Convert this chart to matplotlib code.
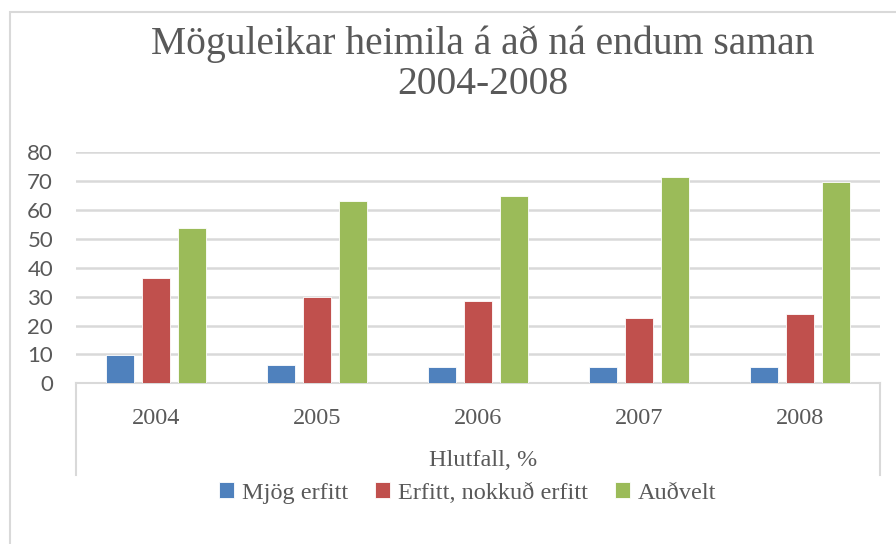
import matplotlib.pyplot as plt
import numpy as np
from matplotlib.patches import Rectangle

# gögn lesin af myndinni
years = ['2004', '2005', '2006', '2007', '2008']
mjog_erfitt = [9.8, 6.2, 5.5, 5.5, 5.5]
erfitt = [36.6, 29.8, 28.5, 22.7, 24.1]
audvelt = [53.7, 63.1, 64.9, 71.6, 69.8]
series_names = ['Mjög erfitt', 'Erfitt, nokkuð erfitt', 'Auðvelt']
colors = ['#4F81BD', '#C0504D', '#9BBB59']

W, H = 896, 544
fig = plt.figure(figsize=(W / 100, H / 100), dpi=100)
serif = 'Liberation Serif'
txt_color = '#595959'
grid_color = '#D9D9D9'

# ytri rammi
fig.add_artist(Rectangle((9.5 / W, -0.05), 1.2, 1 - 11.5 / H + 0.05,
                         transform=fig.transFigure, fill=False,
                         ec=grid_color, lw=1.5))

ax = fig.add_axes([76 / W, 1 - 383.3 / H, (880 - 76) / W, (383.3 - 152.3) / H])

x = np.arange(len(years))
step = 0.224
width = 0.174
for k, (vals, name, c) in enumerate(zip([mjog_erfitt, erfitt, audvelt], series_names, colors)):
    ax.bar(x + (k - 1) * step, vals, width, color=c, edgecolor='white',
           linewidth=0.6, label=name, zorder=3)

ax.set_xlim(-0.5, 4.5)
ax.set_ylim(0, 80)
ax.set_yticks(range(0, 81, 10))
ax.yaxis.grid(True, color=grid_color, lw=1.8, zorder=0)
for s in ['top', 'right', 'left']:
    ax.spines[s].set_visible(False)
ax.spines['bottom'].set_color(grid_color)
ax.spines['bottom'].set_linewidth(1.5)

ax.tick_params(axis='y', length=0, pad=16.5, labelsize=16, labelcolor=txt_color)
for lab in ax.get_yticklabels():
    lab.set_fontfamily('Lato')
ax.set_xticks(x)
ax.set_xticklabels(years, fontfamily=serif, fontsize=17.5, color=txt_color)
ax.tick_params(axis='x', length=0, pad=18)

# kassi um flokkaás
box_h = 92 / (383.3 - 152.3)
for xa in (0, 1):
    ax.plot([xa, xa], [0, -box_h], transform=ax.transAxes, color=grid_color,
            lw=1.5, clip_on=False)

fig.text(483 / W, 1 - 461 / H, 'Hlutfall, %', ha='center', va='center',
         fontfamily=serif, fontsize=17.5, color=txt_color)

fig.text(483 / W, 1 - 64 / H, 'Möguleikar heimila á að ná endum saman\n2004-2008',
         ha='center', va='center', fontfamily=serif, fontsize=28.5,
         color=txt_color, linespacing=1.12)

leg = fig.legend(loc='center', bbox_to_anchor=(468 / W, 1 - 493 / H), ncol=3,
                 frameon=False, handlelength=0.6, handleheight=0.6,
                 handletextpad=0.35, columnspacing=1.1,
                 prop={'family': serif, 'size': 17.5})
for t in leg.get_texts():
    t.set_color(txt_color)

fig.savefig('out.png', dpi=100)
